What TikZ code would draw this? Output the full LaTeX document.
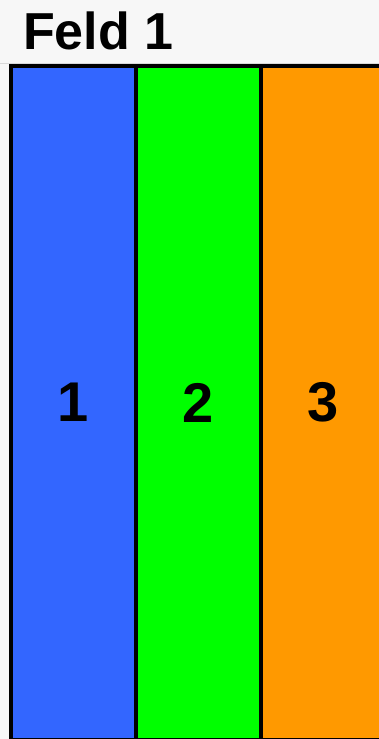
\documentclass[tikz,border=0pt]{standalone}
\usepackage{fontspec}
\setmainfont{Liberation Sans}
\definecolor{hgrund}{HTML}{F7F7F7}
\definecolor{linie}{HTML}{D9D9D9}
\definecolor{blau}{HTML}{3366FF}
\definecolor{gruen}{HTML}{00FF00}
\definecolor{orange}{HTML}{FF9900}
\begin{document}
\begin{tikzpicture}[
    x=1pt,
    y=-1pt,
    spalte/.style={draw=black, line width=4pt, inner sep=0pt,
        minimum width=125pt, minimum height=674pt,
        font=\bfseries\fontsize{56}{60}\selectfont},
    titel/.style={font=\bfseries\fontsize{52}{56}\selectfont, anchor=base west, inner sep=0pt}
]

% Rahmen und Hintergrund
\useasboundingbox (0,0) rectangle (379,739);
\fill[hgrund] (0,0) rectangle (379,739);
\draw[linie, line width=1pt] (0,63) -- (379,63);
\clip (0,0) rectangle (379,739);

% Spalten / Farbe
\foreach \col [count=\i] in {blau, gruen, orange}
{
    \node[spalte, fill=\col] (sp\i) at ({11+62.5+125*(\i-1)},402.5) {\i};
}

\node[titel] (titel) at (23,49) {Feld 1};

\end{tikzpicture}
\end{document}
